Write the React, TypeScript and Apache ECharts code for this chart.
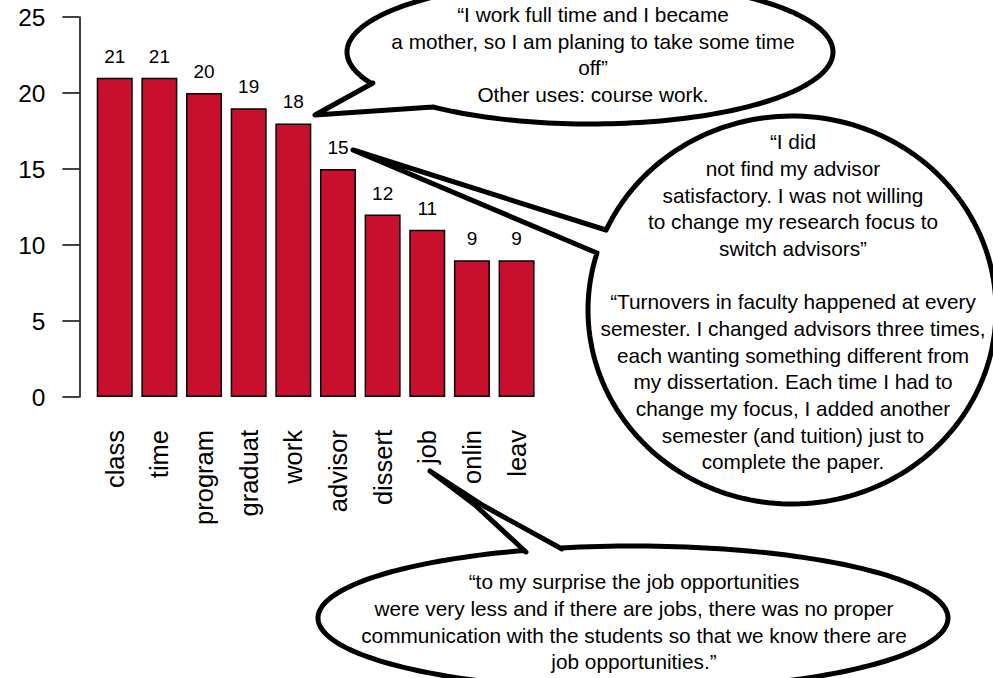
import React, { useEffect, useRef } from "react";
import * as echarts from "echarts";

const categories = ["class", "time", "program", "graduat", "work", "advisor", "dissert", "job", "onlin", "leav"];
const counts = [21, 21, 20, 19, 18, 15, 12, 11, 9, 9];
const yMin = 0;
const yMax = 25;
const yStep = 5;

const quoteWork = [
  "“I work full time and I became",
  "a mother, so I am planing to take some time",
  "off”",
  "Other uses: course work.",
];
const quoteAdvisor = [
  "“I did",
  "not find my advisor",
  "satisfactory. I was not willing",
  "to change my research focus to",
  "switch advisors”",
  "",
  "“Turnovers in faculty happened at every",
  "semester. I changed advisors three times,",
  "each wanting something different from",
  "my dissertation. Each time I had to",
  "change my focus, I added another",
  "semester (and tuition) just to",
  "complete the paper.",
];
const quoteJob = [
  "“to my surprise the job opportunities",
  "were very less and if there are jobs, there was no proper",
  "communication with the students so that we know there are",
  "job opportunities.”",
];

const FONT = "'Liberation Sans', Arial, Helvetica, sans-serif";

function bubblePoints(cx: number, cy: number, rx: number, ry: number, tail: number[][]) {
  const first = tail[0];
  const last = tail[tail.length - 1];
  const ang = (p: number[]) => Math.atan2((p[1] - cy) / ry, (p[0] - cx) / rx);
  const tStart = ang(last);
  const tEnd = ang(first);
  let diff = tEnd - tStart;
  diff = ((diff % (2 * Math.PI)) + 2 * Math.PI) % (2 * Math.PI);
  const sweep = diff > Math.PI ? diff : diff - 2 * Math.PI;
  const n = 200;
  const pts: number[][] = tail.map((p) => [p[0], p[1]]);
  for (let i = 0; i <= n; i++) {
    const t = tStart + (sweep * i) / n;
    pts.push([cx + rx * Math.cos(t), cy + ry * Math.sin(t)]);
  }
  return pts;
}

function bubble(cx: number, cy: number, rx: number, ry: number, tail: number[][]) {
  return {
    type: "polygon",
    z: 50,
    shape: { points: bubblePoints(cx, cy, rx, ry, tail) },
    style: { fill: "#fff", stroke: "#000", lineWidth: 5, lineJoin: "round" },
  };
}

function textLines(lines: string[], x: number, y0: number, step: number) {
  return lines
    .map((t, i) => ({
      type: "text",
      z: 60,
      style: {
        text: t,
        x,
        y: y0 + i * step,
        textAlign: "center",
        textVerticalAlign: "middle",
        fontSize: 20.8,
        fontFamily: FONT,
        fill: "#000",
      },
    }))
    .filter((e) => e.style.text !== "");
}

export default function App() {
  const ref = useRef<HTMLDivElement>(null);
  useEffect(() => {
    if (!ref.current) return;
    const chart = echarts.init(ref.current, null, { renderer: "svg" });
    const graphic: any[] = [
      bubble(590, 52, 243, 72, [
        [373, 83],
        [315, 115],
        [433, 107],
      ]),
      bubble(792, 310, 204, 194, [
        [606, 230],
        [353, 150],
        [597, 253],
      ]),
      bubble(633, 618, 315, 72, [
        [562, 549],
        [484, 506],
        [430, 471],
        [475, 505],
        [526, 552],
      ]),
      ...textLines(quoteWork, 593, 14.5, 26.67),
      ...textLines(quoteAdvisor, 793, 141.7, 26.67),
      ...textLines(quoteJob, 634, 581.7, 26.67),
    ];
    chart.setOption({
      animation: false,
      backgroundColor: "#fff",
      grid: { left: 92.4, width: 446.5, top: 17, bottom: 281, containLabel: false },
      xAxis: {
        type: "category",
        data: categories,
        axisLine: { show: false },
        axisTick: { show: false },
        axisLabel: {
          rotate: 90,
          interval: 0,
          margin: 33,
          color: "#000",
          fontSize: 25.5,
          fontFamily: FONT,
        },
      },
      yAxis: {
        type: "value",
        min: yMin,
        max: yMax,
        interval: yStep,
        offset: 13,
        axisLine: { show: true, lineStyle: { color: "#000", width: 1.5 } },
        axisTick: { show: true, length: 17, lineStyle: { color: "#000", width: 1.5 } },
        axisLabel: { color: "#000", fontSize: 24.5, fontFamily: FONT, margin: 34 },
        splitLine: { show: false },
      },
      series: [
        {
          type: "bar",
          data: counts,
          barWidth: 36,
          itemStyle: { color: "#C8102E", borderColor: "#000", borderWidth: 1.5 },
          label: {
            show: true,
            position: "top",
            distance: 12,
            color: "#000",
            fontSize: 19,
            fontFamily: FONT,
          },
        },
      ],
      graphic,
    });
    return () => chart.dispose();
  }, []);
  return (
    <div
      ref={ref}
      style={{ position: "fixed", left: 0, top: 0, width: 993, height: 678, background: "#fff" }}
    />
  );
}
